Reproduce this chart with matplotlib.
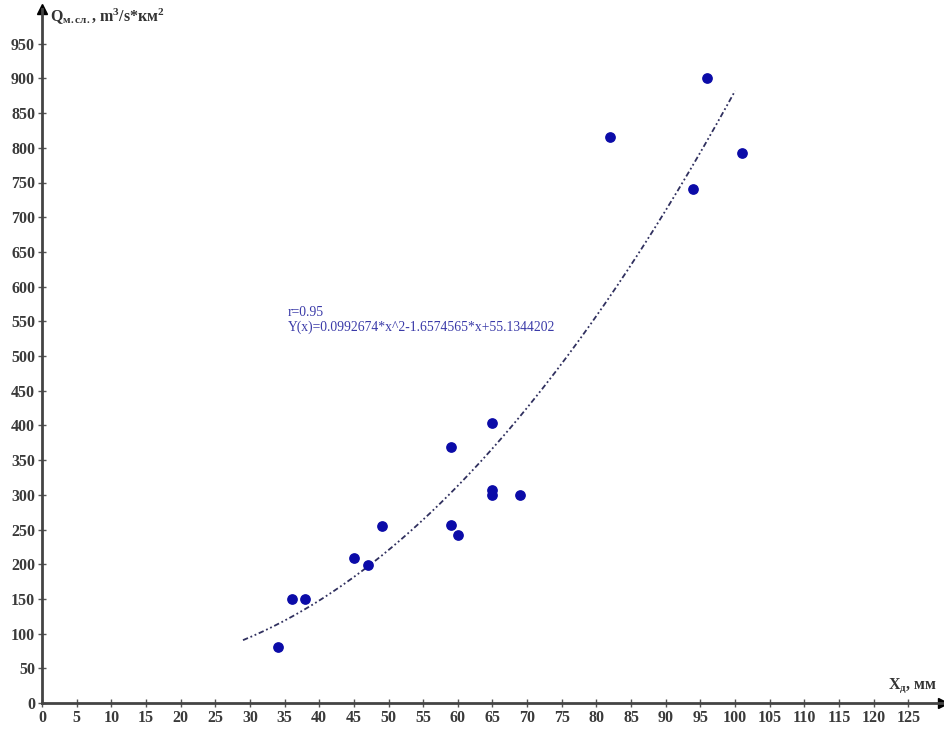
import numpy as np
import matplotlib.pyplot as plt

plt.rcParams['font.family'] = ['Liberation Serif', 'DejaVu Serif']
plt.rcParams['mathtext.fontset'] = 'custom'
plt.rcParams['mathtext.rm'] = 'Liberation Serif:bold'
plt.rcParams['mathtext.it'] = 'Liberation Serif:bold'

# measured points: precipitation (mm) vs. specific discharge
x_mm = [34, 36, 38, 45, 47, 49, 59, 59, 60, 65, 65, 65, 69, 82, 94, 96, 101]
q_val = [80, 150, 150, 209, 199, 255, 369, 256, 242, 403, 307, 300, 300, 815, 740, 900, 792]

# quadratic fit stated on the chart
r_val = 0.95
coef = [0.0992674, -1.6574565, 55.1344202]
fit_from, fit_to = 29, 100

x_ticks = list(range(0, 130, 5))
y_ticks = list(range(0, 1000, 50))

fig = plt.figure(figsize=(9.45, 7.29), dpi=100)
ax = fig.add_axes([42/945, 26/729, 901/945, 694/729])
ax.set_xlim(0, 130)
ax.set_ylim(0, 1000)

for s in ['top', 'right']:
    ax.spines[s].set_visible(False)
for s in ['left', 'bottom']:
    ax.spines[s].set_linewidth(2)
    ax.spines[s].set_color('#444444')

# arrow heads on the axes
ax.plot(1, 0, '>', color='k', ms=7, transform=ax.transAxes, clip_on=False)
ax.plot(0, 1, '^', color='k', ms=7, transform=ax.transAxes, clip_on=False)

ax.set_xticks(x_ticks)
ax.set_yticks(y_ticks)
ax.tick_params(direction='inout', length=6, width=1, color='#555555',
               labelsize=11.5, labelcolor='#3a3a3a', pad=2)
for lab in ax.get_xticklabels() + ax.get_yticklabels():
    lab.set_fontweight('bold')

xs = np.linspace(fit_from, fit_to, 200)
ys = np.polyval(coef, xs)
ax.plot(xs, ys, color='#30305f', lw=1.3, ls=(0, (3, 1.5, 1, 1.5, 1, 1.5)), zorder=2)

ax.scatter(x_mm, q_val, s=45, color='#0b0ba8', zorder=3)

ax.text(35.5, 558, 'r=%.2f' % r_val, color='#3a3aa8', fontsize=9.8)
ax.text(35.5, 536, 'Y(x)=%.7f*x^2%.7f*x+%.7f' % tuple(coef), color='#3a3aa8', fontsize=9.8)

ax.text(1.2, 988, r'Q$_{м.сл.}$, m$^{3}$/s*км$^{2}$', fontsize=11.5, fontweight='bold',
        color='#333333', va='center')
ax.text(122, 24, r'X$_{д}$, мм', fontsize=11.5, fontweight='bold',
        color='#333333', va='center')

fig.savefig('out.png', dpi=100)
